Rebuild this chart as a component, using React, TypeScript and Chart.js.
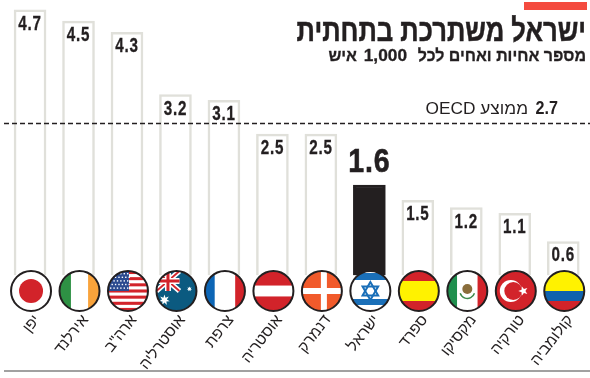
import React, { useEffect, useRef } from "react";
import { Chart, registerables } from "chart.js";

Chart.register(...registerables);

const categories = ["יפן", "אירלנד", 'ארה"ב', "אוסטרליה", "צרפת", "אוסטריה", "דנמרק", "ישראל", "ספרד", "מקסיקו", "טורקיה", "קולומביה"];
const barHeights = [4.7, 4.5, 4.3, 3.2, 3.1, 2.5, 2.5, 1.6, 1.33, 1.2, 1.1, 0.6];
const valueLabels = ["4.7", "4.5", "4.3", "3.2", "3.1", "2.5", "2.5", "1.6", "1.5", "1.2", "1.1", "0.6"];
const flagNames = ["jp", "ie", "us", "au", "fr", "at", "dk", "il", "es", "mx", "tr", "co"];
const oecdAverage = 2.7;
const oecdValue = "2.7";
const oecdLabel = "ממוצע OECD";
const titleText = "ישראל משתרכת בתחתית";
const subtitleText = "מספר אחיות ואחים לכל";
const subtitleNumber = "1,000";
const subtitleEnd = "איש";
const highlight = "ישראל";

const DARK = "#231f20";
const SANS = '"Liberation Sans", sans-serif';

type C = CanvasRenderingContext2D;
const R = 20;

function hs(c: C, x: number, y: number, cols: string[], w: number[]) {
  const tot = w.reduce((a, b) => a + b, 0);
  let p = y - R;
  cols.forEach((col, i) => {
    const h = (w[i] / tot) * 2 * R;
    c.fillStyle = col;
    c.fillRect(x - R, p, 2 * R, h + 0.5);
    p += h;
  });
}
function vs(c: C, x: number, y: number, cols: string[], w: number[]) {
  const tot = w.reduce((a, b) => a + b, 0);
  let p = x - R;
  cols.forEach((col, i) => {
    const h = (w[i] / tot) * 2 * R;
    c.fillStyle = col;
    c.fillRect(p, y - R, h + 0.5, 2 * R);
    p += h;
  });
}
function star(c: C, x: number, y: number, r: number, n: number, inner: number, col: string, rot = -Math.PI / 2) {
  c.fillStyle = col;
  c.beginPath();
  for (let i = 0; i < n * 2; i++) {
    const a = rot + (i * Math.PI) / n;
    const q = i % 2 ? r * inner : r;
    c.lineTo(x + Math.cos(a) * q, y + Math.sin(a) * q);
  }
  c.closePath();
  c.fill();
}
function line(c: C, x1: number, y1: number, x2: number, y2: number, col: string, w: number) {
  c.strokeStyle = col;
  c.lineWidth = w;
  c.beginPath();
  c.moveTo(x1, y1);
  c.lineTo(x2, y2);
  c.stroke();
}
// text whose anchor sits at (x, y), squeezed or stretched horizontally; optional stroke for extra weight
function text(c: C, s: string, x: number, y: number, font: string, sx: number, align: "right" | "center" | "rtl", weight = 0) {
  c.save();
  c.translate(x, y);
  c.scale(sx, 1);
  c.font = font;
  c.fillStyle = DARK;
  if (align === "rtl") {
    c.direction = "rtl";
    c.textAlign = "start";
  } else {
    c.textAlign = align;
  }
  c.fillText(s, 0, 0);
  if (weight) {
    c.strokeStyle = DARK;
    c.lineWidth = weight;
    c.strokeText(s, 0, 0);
  }
  c.restore();
}

const RED = "#d2232a";
function drawFlag(c: C, name: string, x: number, y: number) {
  c.save();
  c.beginPath();
  c.arc(x, y, R, 0, Math.PI * 2);
  c.clip();
  c.fillStyle = "#fff";
  c.fillRect(x - R, y - R, 2 * R, 2 * R);
  if (name === "jp") {
    c.fillStyle = RED;
    c.beginPath();
    c.arc(x, y, 12, 0, Math.PI * 2);
    c.fill();
  } else if (name === "ie") {
    vs(c, x, y, ["#2e9144", "#fff", "#f9a33b"], [1, 1.5, 1]);
  } else if (name === "us") {
    const cols: string[] = [];
    for (let i = 0; i < 13; i++) cols.push(i % 2 ? "#fff" : RED);
    hs(c, x, y, cols, cols.map(() => 1));
    c.fillStyle = "#2b4a8f";
    c.fillRect(x - R, y - R, 21, 20);
    c.fillStyle = "#fff";
    for (let j = 0; j < 5; j++)
      for (let i = 0; i < 6; i++) c.fillRect(x - R + 2 + i * 3.4 + (j % 2 ? 1.5 : 0), y - R + 2 + j * 3.6, 1.4, 1.4);
  } else if (name === "au") {
    c.fillStyle = "#0b5a80";
    c.fillRect(x - R, y - R, 2 * R, 2 * R);
    const l = x - R, t = y - R, r = x + 3, b = y;
    line(c, l, t, r, b, "#fff", 5);
    line(c, l, b, r, t, "#fff", 5);
    line(c, l, t, r, b, RED, 1.8);
    line(c, l, b, r, t, RED, 1.8);
    line(c, (l + r) / 2, t, (l + r) / 2, b, "#fff", 6);
    line(c, l, (t + b) / 2, r, (t + b) / 2, "#fff", 6);
    line(c, (l + r) / 2, t, (l + r) / 2, b, RED, 3);
    line(c, l, (t + b) / 2, r, (t + b) / 2, RED, 3);
    star(c, x - 12, y + 9, 5.5, 7, 0.45, "#fff");
    star(c, x + 13, y - 2, 2.6, 7, 0.5, "#fff");
  } else if (name === "fr") {
    vs(c, x, y, ["#0d66b6", "#fff", RED], [1, 2.1, 1]);
  } else if (name === "at") {
    hs(c, x, y, [RED, "#fff", RED], [1, 0.75, 1]);
  } else if (name === "dk") {
    c.fillStyle = "#f15a2b";
    c.fillRect(x - R, y - R, 2 * R, 2 * R);
    c.fillStyle = "#fff";
    c.fillRect(x - 1, y - R, 6, 2 * R);
    c.fillRect(x - R, y - 3, 2 * R, 6);
  } else if (name === "il") {
    hs(c, x, y, ["#fff", "#1a6fb8", "#fff", "#1a6fb8", "#fff"], [2, 7, 19, 6, 6]);
    c.strokeStyle = "#1a6fb8";
    c.lineWidth = 2;
    for (const s of [1, -1]) {
      c.beginPath();
      for (let i = 0; i < 3; i++) {
        const a = s * (-Math.PI / 2) + (i * 2 * Math.PI) / 3;
        c.lineTo(x + Math.cos(a) * 9, y + Math.sin(a) * 9);
      }
      c.closePath();
      c.stroke();
    }
  } else if (name === "es") {
    hs(c, x, y, [RED, "#fff200", RED], [1, 2, 1]);
  } else if (name === "mx") {
    vs(c, x, y, ["#1f8f4e", "#fff", RED], [1, 2.1, 1]);
    c.fillStyle = "#8a6d3b";
    c.beginPath();
    c.arc(x, y - 2, 5, 0, Math.PI * 2);
    c.fill();
    c.strokeStyle = "#3f8a4c";
    c.lineWidth = 1.5;
    c.beginPath();
    c.arc(x, y, 7.5, Math.PI * 0.1, Math.PI * 0.9);
    c.stroke();
  } else if (name === "tr") {
    c.fillStyle = RED;
    c.fillRect(x - R, y - R, 2 * R, 2 * R);
    c.fillStyle = "#fff";
    c.beginPath();
    c.arc(x - 5, y, 11, 0, Math.PI * 2);
    c.fill();
    c.fillStyle = RED;
    c.beginPath();
    c.arc(x - 2.5, y, 9, 0, Math.PI * 2);
    c.fill();
    star(c, x + 7.5, y, 5, 5, 0.42, "#fff", Math.PI);
  } else if (name === "co") {
    hs(c, x, y, ["#fff200", "#0f62ad", RED], [2, 1, 1]);
  }
  c.restore();
  c.strokeStyle = DARK;
  c.lineWidth = 2;
  c.beginPath();
  c.arc(x, y, R, 0, Math.PI * 2);
  c.stroke();
}

const decorations = {
  id: "decorations",
  afterDatasetsDraw(chart: any) {
    const c: C = chart.ctx;
    const xs = chart.scales.x;
    const ys = chart.scales.y;
    const meta = chart.getDatasetMeta(0);

    const ay = Math.round(ys.getPixelForValue(oecdAverage)) + 0.5;
    c.save();
    c.setLineDash([5, 3]);
    line(c, 4, ay, 590, ay, DARK, 1.3);
    c.restore();

    meta.data.forEach((bar: any, i: number) => {
      const hi = categories[i] === highlight;
      c.save();
      (c as any).letterSpacing = "1px";
      text(c, valueLabels[i], bar.x, hi ? bar.y - 13 : bar.y + 20, `bold ${hi ? 34 : 20}px ${SANS}`, hi ? 0.84 : 0.76, "center", hi ? 0.6 : 0.3);
      c.restore();
    });

    flagNames.forEach((f, i) => drawFlag(c, f, xs.getPixelForValue(i) + 1, 291));

    c.fillStyle = "#f44b3f";
    c.fillRect(524, 2, 63, 8);
    text(c, titleText, 586, 41, `bold 32px ${SANS}`, 0.8, "rtl", 0.5);
    text(c, subtitleText, 586, 61, `bold 17px ${SANS}`, 0.94, "rtl", 0.3);
    text(c, subtitleNumber, 407, 61, `bold 16px ${SANS}`, 1.08, "right", 0.3);
    text(c, subtitleEnd, 357, 61, `bold 17px ${SANS}`, 0.94, "right", 0.3);
    text(c, oecdValue, 558, 114, `bold 19px ${SANS}`, 0.85, "right");
    text(c, oecdLabel, 528, 114, `16px ${SANS}`, 1.08, "rtl");

    line(c, 4, 371, 590, 371, "#444", 1.2);
  },
};

export default function App() {
  const ref = useRef<HTMLCanvasElement>(null);
  useEffect(() => {
    document.body.style.margin = "0";
    const chart = new Chart(ref.current!, {
      type: "bar",
      data: {
        labels: categories,
        datasets: [
          {
            data: barHeights,
            backgroundColor: categories.map((n) => (n === highlight ? DARK : "#ffffff")),
            borderColor: categories.map((n) => (n === highlight ? DARK : "#e0e0da")),
            borderWidth: 2.5,
            borderSkipped: "bottom",
            barThickness: 32,
          },
        ],
      },
      options: {
        responsive: false,
        animation: false,
        layout: { autoPadding: false, padding: { left: 5.8, right: 2.5, top: 0, bottom: 0 } },
        plugins: { legend: { display: false }, title: { display: false }, tooltip: { enabled: false } },
        scales: {
          x: {
            grid: { display: false },
            border: { display: false },
            afterFit(s: any) {
              s.height = 102.6;
              s.paddingLeft = 0;
              s.paddingRight = 0;
              if (s._margins) {
                s._margins.left = 0;
                s._margins.right = 0;
              }
            },
            ticks: {
              autoSkip: false,
              minRotation: 52,
              maxRotation: 52,
              padding: 28,
              labelOffset: 7,
              color: DARK,
              font: { family: "Liberation Sans", size: 15.5 },
            },
          },
          y: { display: false, min: 0, max: 4.874 },
        },
      },
      plugins: [decorations],
    } as any);
    return () => chart.destroy();
  }, []);
  return <canvas ref={ref} width={590} height={378} style={{ display: "block" }} />;
}
